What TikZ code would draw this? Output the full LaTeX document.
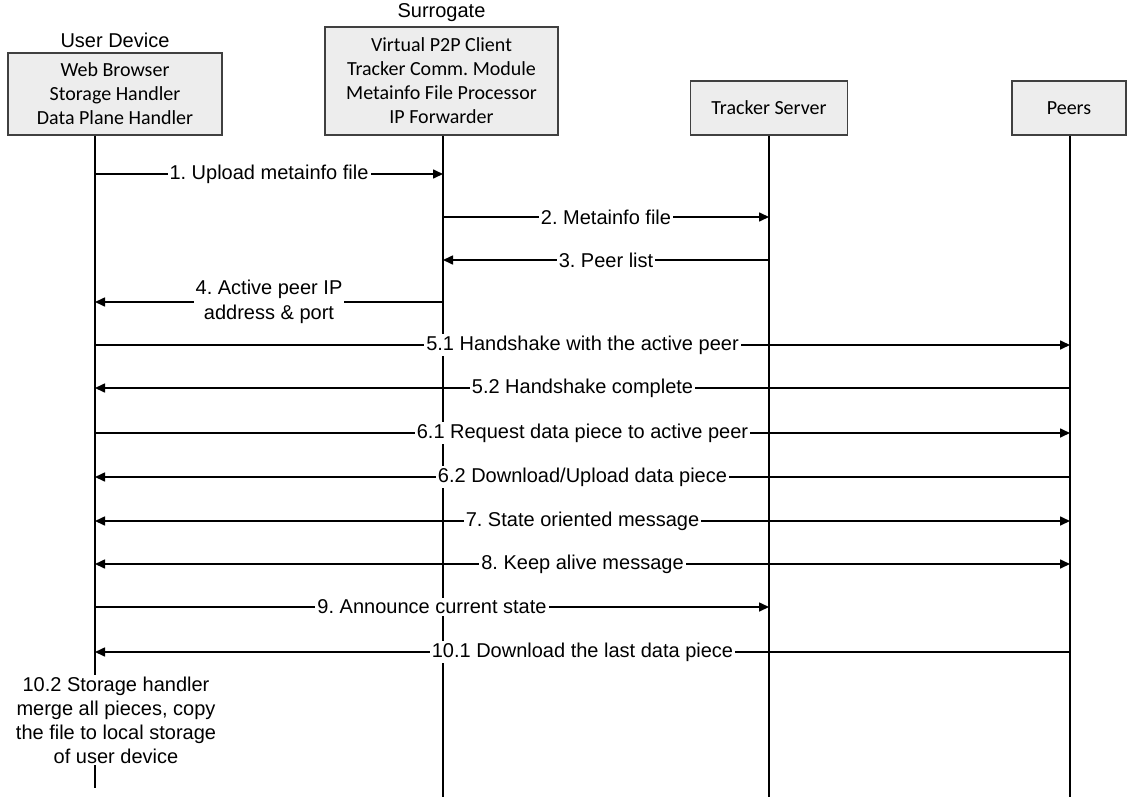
\documentclass[tikz,border=0pt]{standalone}
\usepackage{fontspec}
\setmainfont{Liberation Sans}
\newfontfamily\boxfont{Carlito}
\usepackage{tikz}
\usetikzlibrary{arrows.meta, positioning}
\definecolor{boxgray}{HTML}{EDEDED}
\definecolor{boxline}{HTML}{404040}
\frenchspacing

\begin{document}
\begin{tikzpicture}[x=0.5pt,y=-0.5pt,>={Triangle[length=5pt,width=4.5pt]},line width=0.8pt,font=\fontsize{10}{12.5}\selectfont]
	\tikzset{entity/.style={draw=boxline,fill=boxgray,align=center,inner sep=0pt,font=\boxfont\fontsize{10}{12}\selectfont},
		title/.style={inner sep=0pt},
		msg/.style={->},
		lbl/.style={fill=white,inner sep=1pt,align=center}}
	\useasboundingbox (0,0) rectangle (1128,797);
	\node[entity,minimum width=107pt,minimum height=41pt] (ud) at (115,94) {Web Browser\\Storage Handler\\Data Plane Handler};
	\node[entity,minimum width=116.5pt,minimum height=54pt] (sg) at (441.5,81) {Virtual P2P Client\\Tracker Comm. Module\\Metainfo File Processor\\IP Forwarder};
	\node[entity,minimum width=78.5pt,minimum height=27pt] (ts) at (769,108) {Tracker Server};
	\node[entity,minimum width=57pt,minimum height=27pt] (pr) at (1069,108) {Peers};
	\node[title] (udTitle) [above=2pt of ud] {User Device};
	\node[title] (sgTitle) [above=2pt of sg] {Surrogate};

	% lifelines
	\coordinate (udEnd) at (95,788);
	\coordinate (sgEnd) at (443,797);
	\coordinate (tsEnd) at (769,797);
	\coordinate (prEnd) at (1070,797);
	\draw (udEnd |- ud.south) -- (udEnd);
	\draw (sgEnd |- sg.south) -- (sgEnd);
	\draw (tsEnd |- ts.south) -- (tsEnd);
	\draw (prEnd |- pr.south) -- (prEnd);

	% message rows
	\foreach \y [count=\i] in {174,217,260,302,345,388,433,477,521,564,607,652}
		\coordinate (r\i) at (0,\y);

	\draw[msg] (udEnd |- r1) -- node[lbl] {1. Upload metainfo file} (sgEnd |- r1);
	\draw[msg] (sgEnd |- r2) -- node[lbl] {2. Metainfo file} (tsEnd |- r2);
	\draw[msg] (tsEnd |- r3) -- node[lbl] {3. Peer list} (sgEnd |- r3);
	\draw[msg] (sgEnd |- r4) -- node[lbl] {4. Active peer IP\\address \& port} (udEnd |- r4);
	\draw[msg] (udEnd |- r5) -- node[lbl] {5.1 Handshake with the active peer} (prEnd |- r5);
	\draw[msg] (prEnd |- r6) -- node[lbl] {5.2 Handshake complete} (udEnd |- r6);
	\draw[msg] (udEnd |- r7) -- node[lbl] {6.1 Request data piece to active peer} (prEnd |- r7);
	\draw[msg] (prEnd |- r8) -- node[lbl] {6.2 Download/Upload data piece} (udEnd |- r8);
	\draw[<->] (udEnd |- r9) -- node[lbl] {7. State oriented message} (prEnd |- r9);
	\draw[<->] (udEnd |- r10) -- node[lbl] {8. Keep alive message} (prEnd |- r10);
	\draw[msg] (udEnd |- r11) -- node[lbl] {9. Announce current state} (tsEnd |- r11);
	\draw[msg] (prEnd |- r12) -- node[lbl] {10.1 Download the last data piece} (udEnd |- r12);
	\node[lbl,font=\fontsize{10}{12}\selectfont] (merge) at (116,720) {10.2 Storage handler\\merge all pieces, copy\\the file to local storage\\of user device};
\end{tikzpicture}
\end{document}
